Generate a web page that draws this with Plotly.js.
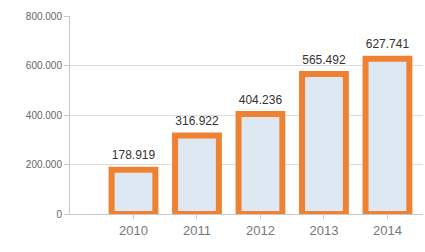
<!DOCTYPE html>
<html>
<head>
<meta charset="utf-8">
<script src="https://cdn.plot.ly/plotly-3.0.1.min.js"></script>
<style>html,body{margin:0;padding:0;background:#fff;}#chart{width:425px;height:252px;}</style>
</head>
<body>
<div id="chart"></div>
<script>
const years = ['2010', '2011', '2012', '2013', '2014'];
const values = [178919, 316922, 404236, 565492, 627741];
const yTicks = [0, 200000, 400000, 600000, 800000];

const fmt = v => String(v).replace(/\B(?=(\d{3})+(?!\d))/g, '.');

const trace = {
  type: 'bar',
  x: years,
  y: values,
  width: 0.69,
  marker: {
    color: '#dde8f2',
    line: {color: '#ef8232', width: 6}
  },
  hoverinfo: 'none'
};

const labels = {
  type: 'scatter',
  mode: 'markers+text',
  x: years,
  y: values,
  text: values.map(fmt),
  textposition: 'top center',
  marker: {size: 10, opacity: 0, color: '#fff'},
  textfont: {family: 'Liberation Sans, Arial, sans-serif', size: 12, color: '#333'},
  cliponaxis: false,
  hoverinfo: 'none'
};

const layout = {
  width: 425, height: 252,
  margin: {l: 70, r: 2, t: 16, b: 38},
  paper_bgcolor: '#fff', plot_bgcolor: '#fff',
  showlegend: false,
  font: {family: 'Liberation Sans, Arial, sans-serif'},
  separators: ',.',
  xaxis: {
    type: 'category',
    range: [-1, 4.56],
    showgrid: false,
    showline: true, linecolor: '#c8c8c8', linewidth: 1,
    ticks: 'outside', ticklen: 4, tickcolor: '#c8c8c8',
    tickfont: {size: 13, color: '#777'},
    zeroline: false, fixedrange: true
  },
  yaxis: {
    range: [0, 800000],
    tickvals: yTicks,
    tickformat: ',d',
    showgrid: true, gridcolor: '#dcdcdc', gridwidth: 1,
    showline: true, linecolor: '#c8c8c8', linewidth: 1,
    ticks: 'outside', ticklen: 5, tickcolor: '#c8c8c8',
    tickfont: {size: 10, color: '#666'},
    zeroline: false, fixedrange: true
  }
};

Plotly.newPlot('chart', [trace, labels], layout, {displayModeBar: false, staticPlot: true});
</script>
</body>
</html>
